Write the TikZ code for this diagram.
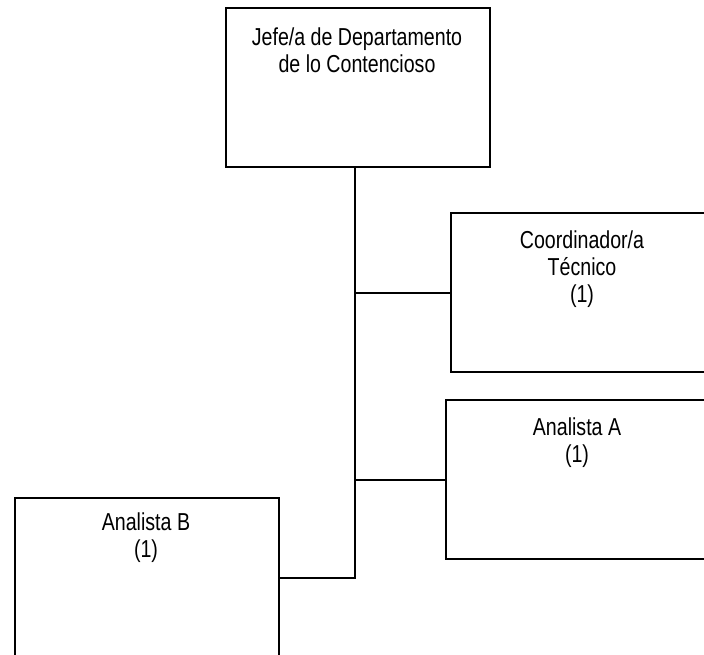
\documentclass[tikz,border=0pt]{standalone}
\usepackage{fontspec}
\setmainfont{Liberation Sans}[FakeStretch=0.8]
\begin{document}
\begin{tikzpicture}[x=1pt,y=-1pt,
  box/.style={draw=black,line width=2pt,rectangle,inner sep=0pt,
    minimum width=264pt,minimum height=159pt,anchor=north west},
  lbl/.style={font=\fontsize{24.5pt}{26.8pt}\selectfont,align=center,anchor=base,inner sep=0pt},
  conn/.style={draw=black,line width=2pt}]
\useasboundingbox (0,0) rectangle (704,654);
\node[box] (jefe) at (225,7) {};
\node[box] (coord) at (450,212) {};
\node[box] (anA) at (445,399) {};
\node[box] (anB) at (14,497) {};
\node[lbl] (tjefe) at (357,72) {Jefe/a de Departamento\\de lo Contencioso};
\node[lbl] (tcoord) at (582,302) {Coordinador/a\\Técnico\\(1)};
\node[lbl] (tanA) at (577,462) {Analista A\\(1)};
\node[lbl] (tanB) at (146,557) {Analista B\\(1)};
\coordinate (s1) at ([xshift=-3pt]jefe.south);
\draw[conn] (s1) |- (anB.east);
\draw[conn] (coord.west) -- (coord.west -| s1);
\draw[conn] (anA.west) -- (anA.west -| s1);
\end{tikzpicture}
\end{document}
